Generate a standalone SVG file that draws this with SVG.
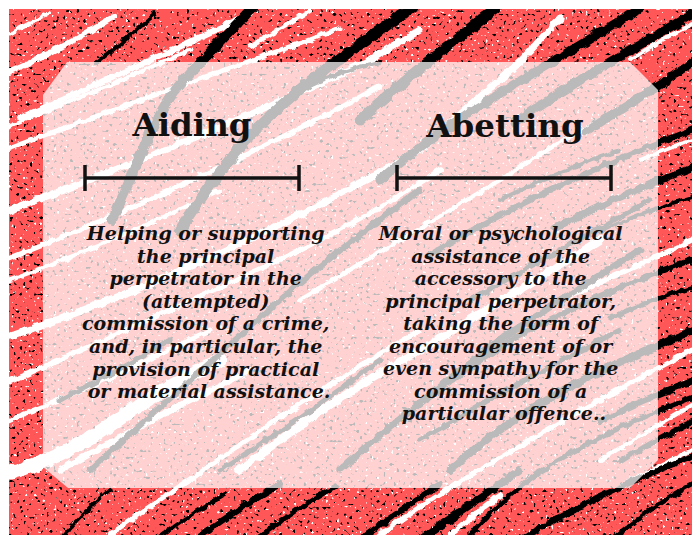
<svg xmlns="http://www.w3.org/2000/svg" width="692" height="535" viewBox="0 0 692 535">
<style>
.k{fill:none;stroke:#000;stroke-linecap:round;stroke-linejoin:round}
.w{fill:none;stroke:#fff;stroke-linecap:round;stroke-linejoin:round}
.head{font-family:"DejaVu Serif","Liberation Serif",serif;font-weight:bold;font-size:32.5px;fill:#111;text-anchor:middle}
.body{font-family:"DejaVu Serif","Liberation Serif",serif;font-weight:bold;font-style:italic;font-size:19px;fill:#111;text-anchor:middle}
.bar{fill:none;stroke:#111;stroke-width:3.5;stroke-linecap:butt}
</style>
<defs>
<clipPath id="bgclip"><rect x="9" y="9" width="683" height="526"/></clipPath>
<filter id="blk" x="0" y="0" width="1" height="1">
<feTurbulence type="fractalNoise" baseFrequency="0.3" numOctaves="1" seed="7"/>
<feColorMatrix type="matrix" values="0 0 0 0 0  0 0 0 0 0  0 0 0 0 0  -14 0 0 0 5.1"/>
</filter>
<filter id="wht" x="0" y="0" width="1" height="1">
<feTurbulence type="fractalNoise" baseFrequency="0.35" numOctaves="1" seed="21"/>
<feColorMatrix type="matrix" values="0 0 0 0 1  0 0 0 0 1  0 0 0 0 1  14 0 0 0 -9.3"/>
</filter>
<filter id="rough" x="-5%" y="-5%" width="110%" height="110%">
<feTurbulence type="fractalNoise" baseFrequency="0.12" numOctaves="2" seed="4" result="n"/>
<feDisplacementMap in="SourceGraphic" in2="n" scale="6" xChannelSelector="R" yChannelSelector="G"/>
</filter>
</defs>
<rect width="692" height="535" fill="#fff"/>
<g id="background" clip-path="url(#bgclip)">
<rect x="9" y="9" width="683" height="526" fill="#ff5757"/>
<rect x="9" y="9" width="683" height="526" fill="#000" filter="url(#blk)"/>
<rect x="9" y="9" width="683" height="526" fill="#fff" filter="url(#wht)"/>
<g filter="url(#rough)">
<!-- white streaks -->
<path class="w" stroke-width="4" d="M5,36 Q25,26 50,12"/>
<path class="w" stroke-width="6" d="M5,74 Q60,50 115,16"/>
<path class="w" stroke-width="6" d="M20,118 Q120,75 220,28 L250,14"/>
<path class="w" stroke-width="4" d="M5,128 Q100,90 190,50"/>
<path class="w" stroke-width="5" d="M5,150 Q160,92 310,40 L340,28"/>
<path class="w" stroke-width="7" d="M5,212 Q200,140 370,60 L420,30"/>
<path class="w" stroke-width="5" d="M5,260 Q160,200 340,108 L380,86"/>
<path class="w" stroke-width="4" d="M5,282 Q120,240 220,190"/>
<path class="w" stroke-width="7" d="M5,338 Q210,270 420,150 L520,62 L560,18"/>
<path class="w" stroke-width="5" d="M5,384 Q150,320 300,250 Q380,210 440,170"/>
<path class="w" stroke-width="5" d="M5,422 Q110,380 210,330"/>
<path class="w" stroke-width="14" d="M5,474 Q60,460 110,425 Q160,390 220,360"/>
<path class="w" stroke-width="5" d="M110,535 Q150,505 190,480 Q300,400 420,330"/>
<path class="w" stroke-width="8" d="M240,470 Q330,400 420,350 Q520,290 600,240"/>
<path class="w" stroke-width="5" d="M380,535 Q420,505 460,482 Q560,420 692,350"/>
<path class="w" stroke-width="6" d="M450,535 Q480,510 500,495"/>
<path class="w" stroke-width="4" d="M530,535 Q600,495 692,450"/>
<path class="w" stroke-width="4" d="M600,460 Q650,430 692,405"/>
<path class="w" stroke-width="4" d="M640,160 Q665,150 692,140"/>
<path class="w" stroke-width="5" d="M560,300 Q630,270 692,240"/>
<path class="w" stroke-width="4" d="M250,46 Q280,30 310,10"/>
<path class="w" stroke-width="4" d="M630,60 Q660,40 692,24"/>
<path class="w" stroke-width="6" d="M60,470 Q150,420 250,370"/>
<path class="w" stroke-width="4" d="M300,300 Q400,240 500,180 Q560,140 620,110"/>
<!-- black streaks -->
<path class="k" stroke-width="10" d="M254,6 L200,63 Q165,95 145,145 Q128,185 112,220"/>
<path class="k" stroke-width="4" d="M155,14 L125,40 L98,62"/>
<path class="k" stroke-width="11" d="M414,6 L335,62 Q290,95 250,135 Q215,175 180,230"/>
<path class="k" stroke-width="11" d="M496,8 L430,60 Q395,88 360,120"/>
<path class="k" stroke-width="9" d="M644,6 L580,45 Q530,75 470,112 Q420,145 380,180"/>
<path class="k" stroke-width="9" d="M696,12 L610,62 Q560,92 515,122"/>
<path class="k" stroke-width="8" d="M696,60 L655,88 Q620,110 585,132"/>
<path class="k" stroke-width="6" d="M696,128 Q600,165 520,205 Q470,230 430,255"/>
<path class="k" stroke-width="7" d="M696,166 Q620,195 555,228"/>
<path class="k" stroke-width="4" d="M696,196 Q640,212 600,232"/>
<path class="k" stroke-width="6" d="M696,258 Q600,292 520,335 Q460,370 400,420"/>
<path class="k" stroke-width="5" d="M696,286 Q645,302 610,318"/>
<path class="k" stroke-width="8" d="M696,330 Q620,360 560,392 Q500,425 450,470"/>
<path class="k" stroke-width="6" d="M696,380 Q640,400 600,422"/>
<path class="k" stroke-width="5" d="M696,396 Q600,432 540,472 Q500,500 470,535"/>
<path class="k" stroke-width="5" d="M696,420 Q650,442 620,462"/>
<path class="k" stroke-width="6" d="M696,455 Q600,492 520,540"/>
<path class="k" stroke-width="5" d="M696,482 Q650,506 612,540"/>
<path class="k" stroke-width="6" d="M440,484 Q400,510 360,540"/>
<path class="k" stroke-width="8" d="M520,470 Q470,505 420,540"/>
<path class="k" stroke-width="5" d="M335,486 Q295,510 255,540"/>
<path class="k" stroke-width="6" d="M280,484 Q235,510 195,540"/>
<path class="k" stroke-width="4" d="M225,494 Q190,515 155,540"/>
<path class="k" stroke-width="3" d="M110,490 Q85,510 60,540"/>
<path class="k" stroke-width="7" d="M340,470 Q420,400 500,340 Q560,300 640,250"/>
<path class="k" stroke-width="6" d="M90,470 Q180,390 280,300 Q350,240 420,190"/>
<path class="k" stroke-width="5" d="M220,470 Q300,420 380,360"/>
<path class="k" stroke-width="5" d="M470,300 Q560,250 650,200"/>
<path class="k" stroke-width="5" d="M420,440 Q520,380 620,330"/>
<path class="k" stroke-width="4" d="M500,200 Q560,170 620,150"/>
<path class="k" stroke-width="5" d="M60,400 Q120,370 170,340"/>
<path class="k" stroke-width="4" d="M300,90 Q340,70 380,62"/>
</g>
</g>
<polygon id="panel" points="67,62 630,62 658,90 658,460 630,488 68,488 43,467 43,95" fill="#fff" fill-opacity="0.73"/>
<g id="aiding">
<text class="head" x="192" y="136">Aiding</text>
<path class="bar" d="M85,178 H299 M85,165 V191 M299,165 V191"/>
<text class="body" x="209">
<tspan x="209" y="240">Helping or supporting</tspan>
<tspan x="209" y="262.6">the principal</tspan>
<tspan x="209" y="285.2">perpetrator in the</tspan>
<tspan x="209" y="307.8">(attempted)</tspan>
<tspan x="209" y="330.4">commission of a crime,</tspan>
<tspan x="209" y="353">and, in particular, the</tspan>
<tspan x="209" y="375.6">provision of practical</tspan>
<tspan x="209" y="398.2">or material assistance.</tspan>
</text>
</g>
<g id="abetting">
<text class="head" x="505" y="137">Abetting</text>
<path class="bar" d="M397,178 H611 M397,165 V191 M611,165 V191"/>
<text class="body" x="504">
<tspan x="504" y="240">Moral or psychological</tspan>
<tspan x="504" y="262.5">assistance of the</tspan>
<tspan x="504" y="285">accessory to the</tspan>
<tspan x="504" y="307.5">principal perpetrator,</tspan>
<tspan x="504" y="330">taking the form of</tspan>
<tspan x="504" y="352.5">encouragement of or</tspan>
<tspan x="504" y="375">even sympathy for the</tspan>
<tspan x="504" y="397.5">commission of a</tspan>
<tspan x="504" y="420">particular offence..</tspan>
</text>
</g>
</svg>
